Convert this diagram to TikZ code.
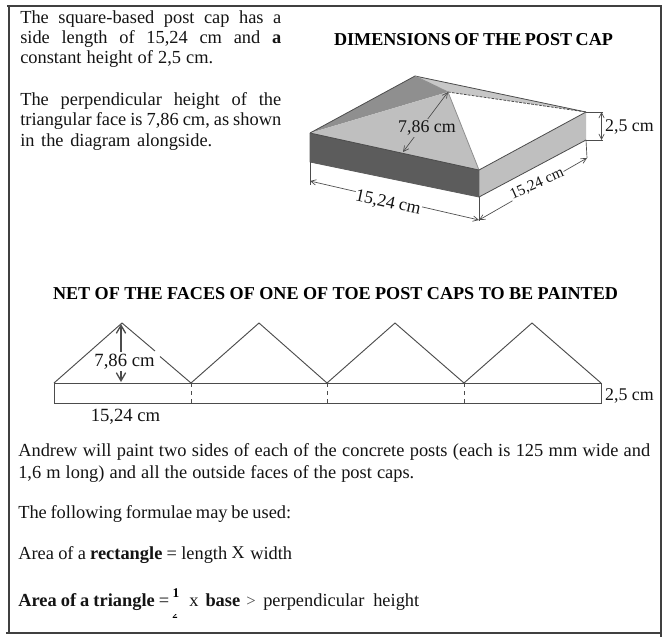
\documentclass[tikz,border=0pt]{standalone}
\usepackage{fontspec}
\setmainfont[WordSpace={1,3,6}]{Liberation Serif}
\usetikzlibrary{arrows.meta}
\definecolor{framec}{gray}{0.25}
\definecolor{frontc}{gray}{0.36}
\definecolor{leftc}{gray}{0.56}
\definecolor{lightc}{gray}{0.75}
\definecolor{backc}{gray}{0.78}
\definecolor{inkc}{gray}{0.08}
\definecolor{linec}{gray}{0.3}
\newcommand{\fitline}[2]{\makebox[#1pt][s]{#2}}
\tikzset{
  x=0.75pt,y=-0.75pt,
  txt/.style={inner sep=0pt,anchor=base west,text=inkc,font=\fontsize{13.8}{14}\selectfont},
  para/.style={inner sep=0pt,anchor=north west,text=inkc,align=left,font=\fontsize{13.8}{15.3}\selectfont},
  dimlabel/.style={inner sep=0pt,text=inkc,font=\fontsize{13.4}{14}\selectfont},
  heading/.style={inner sep=0pt,text=black,font=\bfseries\fontsize{13.6}{14}\selectfont},
  framel/.style={draw=framec,line width=1.6pt},
  dimline/.style={draw=linec,line width=0.5pt,{Straight Barb[length=4pt,width=4pt]}-{Straight Barb[length=4pt,width=4pt]}},
  extline/.style={draw=linec,line width=0.5pt},
  netline/.style={draw=linec,line width=0.7pt},
  netarrow/.style={draw=linec,line width=1pt,-{Straight Barb[length=6pt,width=7pt]}},
  edgeline/.style={draw=linec,line width=0.6pt,line join=round},
}
\begin{document}
\begin{tikzpicture}
\useasboundingbox (0,0) rectangle (666,637);
\fill[white] (0,0) rectangle (666,637);
% frame
\coordinate (fa) at (7,6); \coordinate (fb) at (661,6); \coordinate (fc) at (661,637);
\coordinate (fd) at (6,633); \coordinate (fe) at (661,633);
\coordinate (ff) at (9,6); \coordinate (fg) at (9,633);
\draw[framel] (fa) -- (fb) -- (fc);
\draw[framel] (fd) -- (fe);
\draw[framel] (ff) -- (fg);
% top text
\node[para] (p1) at (20,10) {\fitline{195.75}{The square-based post cap has a}\\
\fitline{195.75}{side length of 15,24 cm and \textbf{a}}\\
\fitline{144.75}{constant height of 2,5 cm.}};
\node[para] (p2) at (20,92) {\fitline{195.75}{The perpendicular height of the}\\
\fitline{195.75}{triangular face is 7,86 cm, as shown}\\
\fitline{144}{in the diagram alongside.}};
\node[heading] (h1) at (473.5,40) {\fitline{209.25}{DIMENSIONS OF THE POST CAP}};
% post cap
\coordinate (L) at (310,133); \coordinate (B) at (415,76); \coordinate (R) at (586,112);
\coordinate (F) at (479,170); \coordinate (A) at (448,92);
\coordinate (LL) at (310,162); \coordinate (FF) at (479,197); \coordinate (RR) at (586,140);
\fill[white] (A) -- (R) -- (F) -- cycle;
\fill[leftc] (L) -- (B) -- (A) -- cycle;
\fill[backc] (B) -- (R) -- (A) -- cycle;
\fill[lightc] (L) -- (A) -- (F) -- cycle;
\fill[frontc] (L) -- (F) -- (FF) -- (LL) -- cycle;
\fill[lightc] (F) -- (R) -- (RR) -- (FF) -- cycle;
\draw[edgeline] (L) -- (B) -- (R);
\draw[edgeline,draw=leftc] (B) -- (A) -- (F);
\draw[edgeline,dashed,dash pattern=on 2pt off 1pt] (A) -- (R);
\draw[edgeline] (R) -- (F) -- (L);
\draw[edgeline,draw=frontc] (L) -- (LL) -- (FF) -- (F);
\draw[edgeline] (FF) -- (RR);
% dimensions on the cap
\coordinate (d1) at (403,152);
\draw[dimline] (A) -- (d1);
\node[dimlabel,fill=lightc,inner sep=1pt] (l786) at (427,128) {7,86 cm};
\coordinate (e1) at (603,112); \coordinate (e2) at (603,140);
\draw[extline] (R) -- (e1); \draw[extline] (RR) -- (e2);
\coordinate (e1m) at (601.5,112); \coordinate (e2m) at (601.5,140);
\draw[dimline] (e1m) -- (e2m);
\node[dimlabel] (l25) at (629.5,127) {2,5 cm};
\coordinate (g1) at (310,185); \coordinate (g2) at (479,221);
\coordinate (g3) at (587,158); \coordinate (g1m) at (310,181); \coordinate (g2m) at (479,220);
\draw[extline] (LL) -- (g1); \draw[extline] (FF) -- (g2);
\draw[extline] (RR) -- (g3);
\draw[dimline] (g1m) -- (g2m);
\draw[dimline] (g2m) -- (g3);
\node[dimlabel,rotate=-12,fill=white,inner sep=0.5pt] (l1524a) at (388,203) {15,24 cm};
\node[dimlabel,rotate=24,fill=white,inner sep=0.5pt,font=\fontsize{11.5}{12}\selectfont] (l1524b) at (537,184) {15,24 cm};
% net
\node[heading] (h2) at (335.5,293.5) {\fitline{423.75}{NET OF THE FACES OF ONE OF TOE POST CAPS TO BE PAINTED}};
\coordinate (n0) at (54,383); \coordinate (n1) at (191,383); \coordinate (n2) at (327,383);
\coordinate (n3) at (464,383); \coordinate (n4) at (601,383);
\coordinate (a1) at (122,323); \coordinate (a2) at (259,323); \coordinate (a3) at (395,323); \coordinate (a4) at (532,323);
\coordinate (m0) at (54,403); \coordinate (m1) at (191,403); \coordinate (m2) at (327,403);
\coordinate (m3) at (464,403); \coordinate (m4) at (601,403);
\coordinate (gapa) at (155,351); \coordinate (gapb) at (160,356.5);
\draw[netline] (n0) -- (a1) -- (gapa);
\draw[netline] (gapb) -- (n1) -- (a2) -- (n2) -- (a3) -- (n3) -- (a4) -- (n4);
\draw[netline] (n0) -- (n4) -- (m4) -- (m0) -- cycle;
\draw[netline,dashed,dash pattern=on 3pt off 3pt] (n1) -- (m1);
\draw[netline,dashed,dash pattern=on 3pt off 3pt] (n2) -- (m2);
\draw[netline,dashed,dash pattern=on 3pt off 3pt] (n3) -- (m3);
\node[dimlabel,font=\fontsize{14}{14}\selectfont] (n786) at (124.5,362) {7,86 cm};
\coordinate (ar1) at (121,352); \coordinate (ar2) at (121,371);
\coordinate (ar1t) at (121,324); \coordinate (ar2t) at (121,382);
\draw[netarrow] (ar1) -- (ar1t);
\draw[netarrow] (ar2) -- (ar2t);
\node[dimlabel,font=\fontsize{14}{14}\selectfont] (n1524) at (125.5,417) {15,24 cm};
\node[dimlabel] (n25) at (629.5,396) {2,5 cm};
% lower text
\node[txt] (t1) at (18,456) {\fitline{474}{Andrew will paint two sides of each of the concrete posts (each is 125 mm wide and}};
\node[txt] (t2) at (18,478) {\fitline{297}{1,6 m long) and all the outside faces of the post caps.}};
\node[txt] (t3) at (18,518) {\fitline{204.75}{The following formulae may be used:}};
\node[txt] (t4) at (18,559) {\fitline{156.75}{Area of a \textbf{rectangle} = length}};
\node[inner sep=0pt,anchor=base,text=inkc,font=\fontsize{13.5}{14}\selectfont] (tx) at (238,558) {X};
\node[txt] (t6) at (250,559) {\fitline{32.25}{width}};
\node[txt] (t7) at (18,606) {\fitline{113.25}{\textbf{Area of a triangle} =}};
\node[inner sep=0pt,anchor=base,text=black,font=\bfseries\fontsize{10}{10}\selectfont] (half1) at (176,597) {1};
\begin{scope}
\clip (170,614.5) rectangle (181,618);
\node[inner sep=0pt,anchor=base,text=black,font=\bfseries\fontsize{8}{8}\selectfont] (half2) at (175,618) {2};
\end{scope}
\node[txt] (t8) at (189,606) {\fitline{38.25}{x \textbf{base}}};
\node[txt,text=linec,font=\fontsize{12.5}{13}\selectfont] (t9) at (246,606) {>};
\node[txt] (t10) at (263,606) {\fitline{117}{perpendicular height}};
\end{tikzpicture}
\end{document}
